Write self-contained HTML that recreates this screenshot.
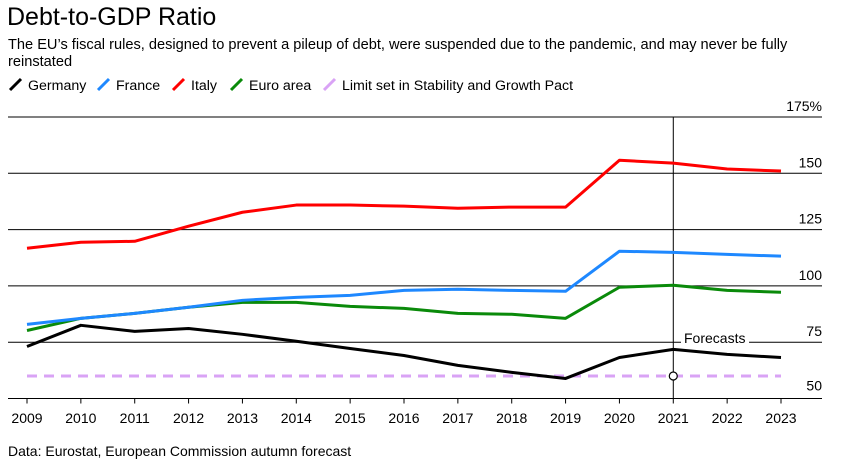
<!DOCTYPE html>
<html><head><meta charset="utf-8"><style>
body{margin:0;background:#fff;font-family:"Liberation Sans",Arial,sans-serif;}
#wrap{position:relative;width:845px;height:463px;overflow:hidden}
</style></head><body><div id="wrap">
<div style="position:absolute;left:7px;top:3px;font-size:25px;color:#000">Debt-to-GDP Ratio</div>
<div style="position:absolute;left:8px;top:37px;width:800px;font-size:14.6px;line-height:17px;color:#000">The EU’s fiscal rules, designed to prevent a pileup of debt, were suspended due to the pandemic, and may never be fully reinstated</div>
<svg id="c" width="845" height="463" style="position:absolute;left:0;top:0"></svg>
</div>
<script>
const years=[2009,2010,2011,2012,2013,2014,2015,2016,2017,2018,2019,2020,2021,2022,2023];
const germany=[73.1,82.5,79.8,81.1,78.5,75.4,72.2,69.1,64.7,61.6,58.9,68.2,71.8,69.6,68.2];
const france=[82.9,85.6,87.8,90.5,93.6,94.9,95.8,98,98.5,98,97.6,115.4,114.9,114,113.2];
const italy=[116.7,119.4,119.8,126.5,132.7,135.9,135.9,135.4,134.5,135,135,155.8,154.5,151.9,151];
const euro=[80.2,85.6,87.8,90.5,92.7,92.7,90.9,90,87.8,87.4,85.6,99.4,100.3,98,97.2];
const limitVal=60;
const yTicks=[50,75,100,125,150,175];
const yTickLabels=["50","75","100","125","150","175%"];
const forecastYear=2021;
const NS="http://www.w3.org/2000/svg";
const svg=document.getElementById('c');
const x=y=>27+(y-2009)*(781-27)/14;
const yy=v=>398.5-(v-50)*(398.5-117)/125;
function el(t,a){const e=document.createElementNS(NS,t);for(const k in a)e.setAttribute(k,a[k]);svg.appendChild(e);return e;}
yTicks.forEach((t,i)=>{
 if(i>0){const l=el('line',{x1:8,x2:822,y1:yy(t),y2:yy(t),stroke:'#000','stroke-width':1});
 
 }
 const tx=el('text',{x:822,y:yy(t)-(i==0?0:6),'text-anchor':'end','font-size':14,fill:'#000'});
 if(i==0)tx.setAttribute('y',yy(t)-8);
 else if(t==50)tx.setAttribute('y',yy(t)-9);
 tx.textContent=yTickLabels[i];
 
 
});
const ax=el('line',{x1:8,x2:822,y1:yy(50),y2:yy(50),stroke:'#000','stroke-width':1});


years.forEach(y=>{
 const t=el('line',{x1:x(y),x2:x(y),y1:yy(50),y2:yy(50)+5,stroke:'#000'});
 
 
 const l=el('text',{x:x(y),y:423,'text-anchor':'middle','font-size':14,fill:'#000'});
 l.textContent=y;
 
 
});
const fl=el('line',{x1:x(forecastYear),x2:x(forecastYear),y1:yy(175),y2:yy(50),stroke:'#000'});


const fb=el('rect',{x:681,y:331,width:68,height:13,fill:'#fff'});


const ft=el('text',{x:684,y:343,'font-size':14,fill:'#000'});
ft.textContent='Forecasts';


const lim=el('line',{x1:x(2009),x2:x(2023),y1:yy(limitVal),y2:yy(limitVal),stroke:'#d9a3f5','stroke-width':3,'stroke-dasharray':'10,7'});


function series(d,c,n){const p=el('polyline',{points:d.map((v,i)=>x(years[i])+','+yy(v)).join(' '),fill:'none',stroke:c,'stroke-width':3,'stroke-linejoin':'round'});
 
 }
series(germany,'#000','line-germany');
series(euro,'#0a8a0a','line-euro-area');
series(france,'#1e88ff','line-france');
series(italy,'#ff0000','line-italy');
const cc=el('circle',{cx:x(forecastYear),cy:yy(limitVal),r:4,fill:'#fff',stroke:'#000','stroke-width':1.2});


const leg=[['Germany','#000',8],['France','#1e88ff',96],['Italy','#ff0000',171],['Euro area','#0a8a0a',229],['Limit set in Stability and Growth Pact','#d9a3f5',322]];
leg.forEach(([t,c,lx])=>{
 const g=el('line',{x1:lx+2,y1:90,x2:lx+13,y2:79,stroke:c,'stroke-width':3});
 
 
 const tx=el('text',{x:lx+20,y:90,'font-size':14.2,fill:'#000'});
 tx.textContent=t;
 
 
});
const src=el('text',{x:8,y:456,'font-size':14,fill:'#000'});
src.textContent='Data: Eurostat, European Commission autumn forecast';


</script></body></html>
